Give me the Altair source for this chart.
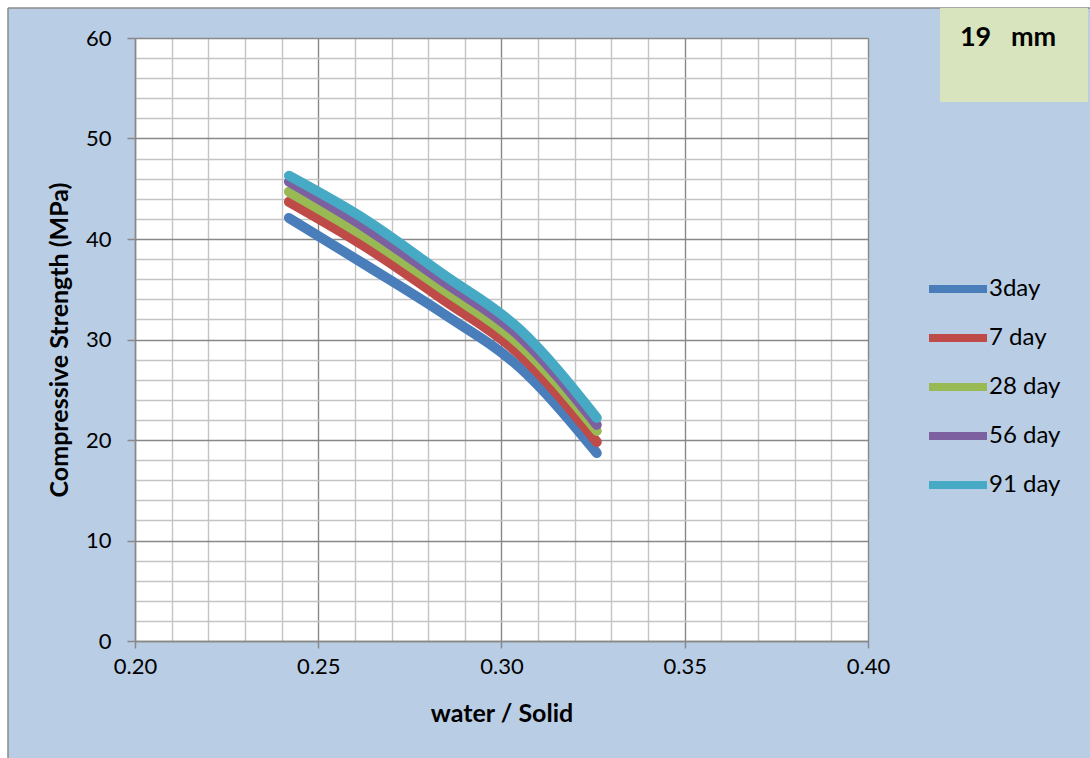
import altair as alt
import pandas as pd

# water / solid ratios of the mixes
ws = [0.242, 0.263, 0.284, 0.305, 0.326]

# compressive strength (MPa) at each curing age
day3 = [42.1, 37.4, 32.6, 27.2, 18.7]
day7 = [43.7, 39.2, 34.0, 28.5, 19.8]
day28 = [44.7, 40.2, 35.0, 29.5, 20.9]
day56 = [45.7, 41.1, 35.8, 30.3, 21.5]
day91 = [46.3, 41.9, 36.5, 31.0, 22.2]

series_names = ["3day", "7 day", "28 day", "56 day", "91 day"]
series_values = [day3, day7, day28, day56, day91]
series_colors = ["#4a7ebb", "#be4b48", "#98b954", "#7d60a0", "#46aac5"]

x_ticks = [round(0.20 + 0.01 * i, 2) for i in range(21)]
y_ticks = list(range(0, 61, 2))

rows = []
for name, vals in zip(series_names, series_values):
    for x, y in zip(ws, vals):
        rows.append({"ws": x, "strength": y, "age": name})
df = pd.DataFrame(rows)

FONT = "Lato"
PLOT_W, PLOT_H = 733, 603
PAD_L, PAD_T, PAD_R, PAD_B = 135, 38, 222, 117

major_x = "round(datum.value * 100) % 5 === 0"
major_y = "datum.value % 10 === 0"

x_axis = alt.Axis(
    values=x_ticks,
    labelExpr=f"{major_x} ? format(datum.value, '.2f') : ''",
    title="water / Solid",
    titleFont=FONT, titleFontSize=25, titleFontWeight="bold", titleColor="#000000",
    titlePadding=24,
    labelFont=FONT, labelFontSize=22, labelColor="#000000", labelPadding=8,
    labelFlush=False,
    grid=True,
    gridColor={"condition": {"test": major_x, "value": "#888888"}, "value": "#c4c4c4"},
    gridWidth=1.4,
    tickColor="#888888", tickSize=7, tickWidth=1.5,
    tickOpacity={"condition": {"test": major_x, "value": 1}, "value": 0},
    domainColor="#888888", domainWidth=1.5,
)

y_axis = alt.Axis(
    values=y_ticks,
    labelExpr=f"{major_y} ? format(datum.value, 'd') : ''",
    title="Compressive Strength (MPa)",
    titleFont=FONT, titleFontSize=25, titleFontWeight="bold", titleColor="#000000",
    titlePadding=13,
    labelFont=FONT, labelFontSize=22, labelColor="#000000", labelPadding=16,
    labelFlush=False,
    grid=True,
    gridColor={"condition": {"test": major_y, "value": "#888888"}, "value": "#c4c4c4"},
    gridWidth=1.4,
    tickColor="#888888", tickSize=8, tickWidth=1.5,
    tickOpacity={"condition": {"test": major_y, "value": 1}, "value": 0},
    domainColor="#888888", domainWidth=1.5,
)

color_scale = alt.Scale(domain=series_names, range=series_colors)

legend = alt.Legend(
    title=None,
    orient="none",
    legendX=790,
    legendY=218,
    symbolType="stroke",
    symbolSize=3364,
    symbolStrokeWidth=8,
    symbolOpacity=1,
    labelFont=FONT, labelFontSize=24, labelColor="#000000",
    labelOffset=alt.ExprRef(expr="-2"),
    rowPadding=0,
)

base = alt.Chart(df)

line_layers = []
for name in series_names:
    line_layers.append(
        base.transform_filter(alt.datum.age == name)
        .mark_line(strokeWidth=10, strokeCap="round", strokeJoin="round", interpolate="monotone")
        .encode(
            x=alt.X("ws:Q", scale=alt.Scale(domain=[0.2, 0.4], nice=False), axis=x_axis),
            y=alt.Y("strength:Q", scale=alt.Scale(domain=[0, 60], nice=False), axis=y_axis),
            color=alt.Color("age:N", scale=color_scale, legend=legend),
        )
    )

one = alt.Data(values=[{"k": 1}])

# white margin strips and the grey frame of the chart panel
frame = alt.layer(
    alt.Chart(one).mark_rect(color="#ffffff").encode(
        x=alt.value(-PAD_L), x2=alt.value(PLOT_W + PAD_R), y=alt.value(-PAD_T), y2=alt.value(-30)
    ),
    alt.Chart(one).mark_rect(color="#ffffff").encode(
        x=alt.value(-PAD_L), x2=alt.value(-127), y=alt.value(-PAD_T), y2=alt.value(PLOT_H + PAD_B)
    ),
    alt.Chart(one).mark_rule(color="#8a8a8a", strokeWidth=1.5).encode(
        x=alt.value(-127), x2=alt.value(PLOT_W + PAD_R), y=alt.value(-30)
    ),
    alt.Chart(one).mark_rule(color="#8a8a8a", strokeWidth=1.5).encode(
        x=alt.value(-127), y=alt.value(-30), y2=alt.value(PLOT_H + PAD_B)
    ),
)

# "19 mm" label box in the top-right corner
label_box = alt.layer(
    alt.Chart(one).mark_rect(color="#d7e4bd").encode(
        x=alt.value(805), x2=alt.value(953), y=alt.value(-30), y2=alt.value(64)
    ),
    alt.Chart(one).mark_text(
        text="19\u00a0\u00a0\u00a0mm", font=FONT, fontSize=27, fontWeight="bold", color="#000000",
        align="center", baseline="middle",
    ).encode(x=alt.value(873), y=alt.value(0)),
)

chart = alt.layer(frame, label_box, *line_layers).properties(
    width=PLOT_W,
    height=PLOT_H,
    background="#b9cde5",
    padding={"left": PAD_L, "top": PAD_T, "right": PAD_R, "bottom": PAD_B},
    autosize=alt.AutoSizeParams(type="none"),
).configure_view(fill="#ffffff", stroke=None)

chart.save("out.html", embed_options={"renderer": "svg", "actions": False})
